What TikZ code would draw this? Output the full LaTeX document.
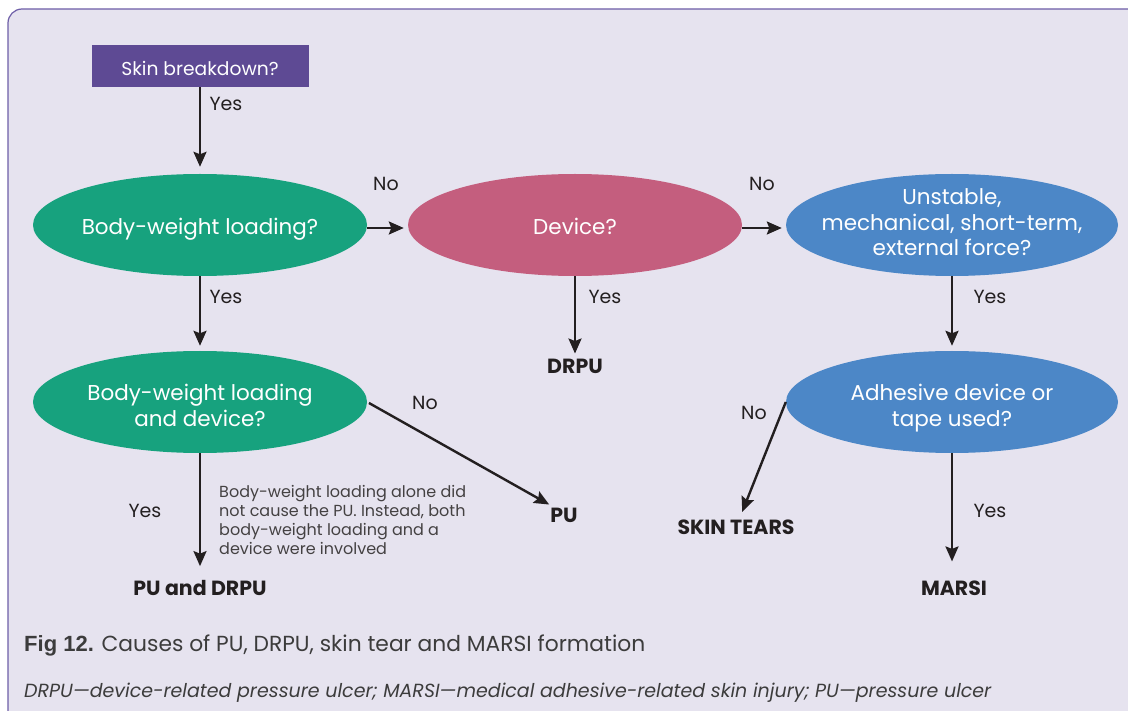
\documentclass[tikz,border=0pt]{standalone}
\usepackage{fontspec}
\setmainfont{Poppins}
\newfontfamily\capfont{Liberation Sans}
\usetikzlibrary{shapes.geometric,arrows.meta}
\definecolor{bgfill}{HTML}{E6E3EF}
\definecolor{bgline}{HTML}{6E5EA8}
\definecolor{boxpurple}{HTML}{5E4A94}
\definecolor{egreen}{HTML}{17A27E}
\definecolor{epink}{HTML}{C45E7E}
\definecolor{eblue}{HTML}{4C87C7}
\definecolor{ink}{HTML}{231F20}
\definecolor{capgray}{HTML}{3C3C3C}
\newcommand\mvtext[2]{\raisebox{#1}[\height][\depth]{\begin{tabular}{@{}c@{}}#2\end{tabular}}}
\tikzset{
  ell/.style={ellipse, minimum width=334pt, minimum height=102pt, inner xsep=-40pt, inner ysep=-20pt, text=white, align=center, font=\fontsize{21.5}{25.5}\selectfont},
  arr/.style={draw=ink, line width=2.4pt, -{Stealth[length=15pt,width=13pt,inset=2.5pt]}},
  lbl/.style={text=ink, font=\fontsize{19}{22}\selectfont, inner sep=0pt},
  outcome/.style={text=ink, font=\bfseries\fontsize{20.5}{24}\selectfont, inner sep=2pt},
}
\begin{document}
\begin{tikzpicture}[x=1pt,y=-1pt]
\useasboundingbox (0,0) rectangle (1128,711);
\fill[white] (0,0) rectangle (1128,711);
\filldraw[fill=bgfill, draw=bgline, line width=1.2pt]
  (8,720) -- (8,23) arc[start angle=180,end angle=270,radius=14] -- (1135,9) -- (1135,720) -- cycle;

\node[fill=boxpurple, minimum width=217pt, minimum height=42pt, inner sep=0pt, text=white, font=\fontsize{18.7}{22}\selectfont] (sb) at (200,66) {\raisebox{-2pt}[\height][\depth]{Skin breakdown?}};

\node[ell, fill=egreen] (e1) at (200,225) {\mvtext{-4pt}{Body-weight loading?}};
\node[ell, fill=epink] (e2) at (575,225) {\mvtext{-4pt}{Device?}};
\node[ell, fill=eblue, minimum width=332pt] (e3) at (952,225) {\mvtext{0pt}{Unstable,\\mechanical, short-term,\\external force?}};
\node[ell, fill=egreen] (e4) at (200,402) {\mvtext{-6.5pt}{Body-weight loading\\and device?}};
\node[ell, fill=eblue, minimum width=332pt] (e5) at (952,402) {\mvtext{-6.5pt}{Adhesive device or\\tape used?}};

\node[outcome] (drpu) at (575,366) {DRPU};
\node[outcome] (pu) at (564,515) {PU};
\node[outcome] (pudrpu) at (200,588) {PU and DRPU};
\node[outcome] (st) at (736,527) {SKIN TEARS};
\node[outcome] (marsi) at (954,588) {MARSI};

\draw[arr, shorten >=7pt] (sb.south) -- (e1.north);
\draw[arr, shorten >=4pt] ([yshift=-3pt]e1.east) -- ([yshift=-3pt]e2.west);
\draw[arr, shorten >=4pt] ([yshift=-3pt]e2.east) -- ([yshift=-3pt]e3.west);
\draw[arr, shorten >=5pt] (e1.south) -- (e4.north);
\draw[arr, shorten >=3pt] (e2.south) -- (drpu.north);
\draw[arr, shorten >=5pt] (e3.south) -- (e5.north);
\draw[arr, shorten <=2pt, shorten >=0pt] (e4.east) -- ([xshift=1pt,yshift=1pt]pu.north west);
\draw[arr, shorten >=12pt] (e4.south) -- (pudrpu.north);
\draw[arr, shorten >=6pt] (e5.west) -- ([xshift=4pt]st.north);
\draw[arr, shorten >=17pt] (e5.south) -- ([xshift=-2pt]marsi.north);

\node[lbl] (y1) at (226,104) {Yes};
\node[lbl] (n1) at (386,184) {No};
\node[lbl] (n2) at (762,184) {No};
\node[lbl] (y2) at (226,297) {Yes};
\node[lbl] (y3) at (605,297) {Yes};
\node[lbl] (y4) at (990,297) {Yes};
\node[lbl] (n3) at (425,403) {No};
\node[lbl] (n4) at (754,413) {No};
\node[lbl] (y5) at (145,511) {Yes};
\node[lbl] (y6) at (990,511) {Yes};

\node[anchor=north west, inner sep=0pt, text=ink!85, align=left, font=\fontsize{16}{19}\selectfont] (note) at (219,485)
  {Body-weight loading alone did\\not cause the PU. Instead, both\\body-weight loading and a\\device were involved};

\node[anchor=west, inner sep=0pt, text=capgray, font=\fontsize{21.8}{25}\selectfont] (cap) at (24,646)
  {{\capfont\bfseries\fontsize{22}{25}\selectfont Fig 12.} Causes of PU, DRPU, skin tear and MARSI formation};
\node[anchor=west, inner sep=0pt, text=capgray, font=\itshape\fontsize{19}{22}\selectfont] (foot) at (24,693)
  {DRPU---device-related pressure ulcer; MARSI---medical adhesive-related skin injury; PU---pressure ulcer};
\end{tikzpicture}
\end{document}
